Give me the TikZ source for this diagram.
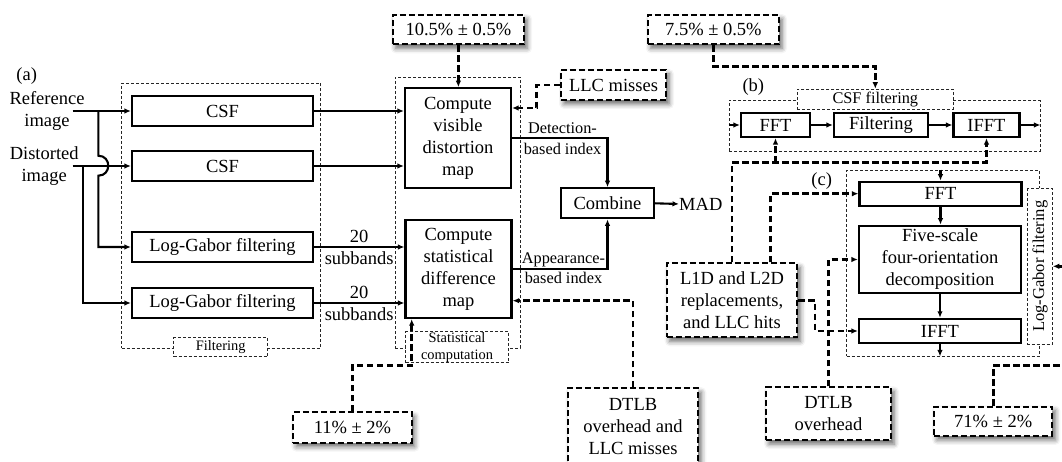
\documentclass[tikz,border=0pt]{standalone}
\usepackage{fontspec}
\setmainfont{Liberation Serif}
\usetikzlibrary{arrows.meta,shadows.blur,calc}

\newcommand\fsmain{\fontsize{18.5}{22}\selectfont}
\newcommand\fsidx{\fontsize{16.3}{20.5}\selectfont}
\newcommand\fsgrp{\fontsize{14.4}{16.7}\selectfont}

\begin{document}
\begin{tikzpicture}[x=1pt,y=-1pt,
  every node/.style={font=\fsmain, inner sep=0pt, align=center},
  sbox/.style={draw, line width=2.2pt, fill=white},
  abox/.style={draw, line width=1.9pt, dash pattern=on 6pt off 3pt, fill=white,
    blur shadow={shadow xshift=3pt, shadow yshift=-4pt, shadow blur radius=5pt, shadow opacity=60}},
  gbox/.style={draw=black!85, line width=0.9pt, dash pattern=on 3pt off 2pt},
  glabel/.style={gbox, fill=white},
  conn/.style={line width=2.1pt, -{Latex[length=6.5pt,width=5.5pt]}},
  aconn/.style={line width=2.7pt, dash pattern=on 6.5pt off 3.5pt, -{Latex[length=6.5pt,width=5.5pt]}}]

\useasboundingbox (0,0) rectangle (1062,462);
\clip (0,0) rectangle (1062,462);

% ---------- (a) MAD pipeline ----------
\node (lbla) at (26.7,76) {(a)};
\node (reftxt) at (47,110.5) {Reference\\image};
\node (disttxt) at (44.2,165.8) {Distorted\\image};

% dotted grouping frames
\node[gbox, minimum width=198.5pt, minimum height=265pt] (fgrp) at (220.75,215.5) {};
\node[gbox, minimum width=125pt, minimum height=271pt] (sgrp) at (457.5,212.5) {};

\node[sbox, minimum width=181pt, minimum height=30pt] (csf1) at (222.5,111) {CSF};
\node[sbox, minimum width=181pt, minimum height=30pt] (csf2) at (222.5,166) {CSF};
\node[sbox, minimum width=181pt, minimum height=30pt] (lg1) at (222.5,247) {Log-Gabor filtering};
\node[sbox, minimum width=181pt, minimum height=30pt] (lg2) at (222.5,303) {Log-Gabor filtering};

\node[sbox, minimum width=106pt, minimum height=100pt] (cvd) at (458,138.3) {Compute\\visible\\distortion\\map};
\node[sbox, minimum width=106pt, minimum height=98pt] (csd) at (458.5,269) {Compute\\statistical\\difference\\map};
\node[sbox, minimum width=93pt, minimum height=30pt] (comb) at (607.5,203.3) {Combine};
\node[anchor=west] (mad) at (679,204) {MAD};

\node[glabel, font=\fsgrp, minimum width=94pt, minimum height=19pt] (flabel) at (220.7,347) {Filtering};
\node[glabel, font=\fsgrp, minimum width=103pt, minimum height=31pt] (slabel) at (457,347.2) {Statistical\\computation};

\node[font=\fsidx] (detlab) at (562.5,138.5) {Detection-\\based index};
\node[font=\fsidx] (applab) at (563.5,268) {Appearance-\\based index};
\node[font=\fontsize{18.5}{21.6}\selectfont] (sb1) at (359.2,247.5) {20\\subbands};
\node[font=\fontsize{18.5}{21.6}\selectfont] (sb2) at (359.2,303.3) {20\\subbands};

\coordinate (refin) at (72.7,111);
\coordinate (refbr) at (98.3,111);
\coordinate (distin) at (72.5,166);
\coordinate (distbr) at (82.7,166);

\draw[conn] (refin) -- (csf1.west);
\draw[conn] (distin) -- (csf2.west);
% reference branch hops over the distorted-image line
\draw[conn] (refbr) -- (98.3,155.7) .. controls (111.6,155.7) and (111.6,175.7) .. (98.3,175.7) |- (lg1.west);
\draw[conn] (distbr) |- (lg2.west);

\draw[conn] (csf1.east) -- (csf1.east -| cvd.west);
\draw[conn] (csf2.east) -- (csf2.east -| cvd.west);
\draw[conn] (lg1.east) -- (lg1.east -| csd.west);
\draw[conn] (lg2.east) -- (lg2.east -| csd.west);
\draw[conn] (cvd.east) -| (comb.north);
\draw[conn] (csd.east) -| (comb.south);
\draw[conn] (comb.east) -- (mad.west);

% ---------- (b) CSF filtering ----------
\node (lblb) at (753.3,87.3) {(b)};
\node[gbox, minimum width=310.7pt, minimum height=50.7pt] (bgrp) at (884.65,125.65) {};
\node[glabel, font=\fontsize{16.3}{19}\selectfont, minimum width=156pt, minimum height=20pt] (blabel) at (875.3,99.2) {CSF filtering};
\node[sbox, minimum width=69pt, minimum height=24pt] (fftb) at (775.5,125) {FFT};
\node[sbox, minimum width=94pt, minimum height=24pt] (filtb) at (881,125) {Filtering};
\node[sbox, minimum width=66pt, minimum height=24pt] (ifftb) at (986.5,125) {IFFT};
\draw[conn] (bgrp.west |- fftb.west) -- (fftb.west);
\draw[conn] (fftb.east) -- (filtb.west);
\draw[conn] (filtb.east) -- (ifftb.west);
\draw[conn] (ifftb.east) -- (ifftb.east -| bgrp.east);

% ---------- (c) Log-Gabor filtering ----------
\node (lblc) at (821.7,180.7) {(c)};
\node[gbox, minimum width=192.6pt, minimum height=186pt] (cgrp) at (943,263) {};
\node[glabel, rotate=90, font=\fontsize{16.6}{19}\selectfont, minimum width=156pt, minimum height=24.6pt] (clabel) at (1040,266.3) {Log-Gabor filtering};
\node[sbox, minimum width=162pt, minimum height=24pt] (fftc) at (940.5,193.7) {FFT};
\node[sbox, minimum width=162pt, minimum height=67.6pt] (five) at (940,259.5) {Five-scale\\four-orientation\\decomposition};
\node[sbox, minimum width=162pt, minimum height=24.3pt] (ifftc) at (940,331) {IFFT};
\draw[conn] (cgrp.north -| fftc.north) -- (fftc.north);
\draw[conn] (fftc.south) -- (fftc.south |- five.north);
\draw[conn] (five.south) -- (five.south |- ifftc.north);
\draw[conn] (ifftc.south) -- (ifftc.south |- cgrp.south);

% ---------- measured shares and hardware events ----------
\node[abox, minimum width=131.3pt, minimum height=29.3pt] (p105) at (458.4,29.7) {10.5\% ± 0.5\%};
\node[abox, minimum width=131.3pt, minimum height=29.3pt] (p75) at (713.4,29.7) {7.5\% ± 0.5\%};
\node[abox, minimum width=105pt, minimum height=30pt] (llc) at (613.5,85) {LLC misses};
\node[abox, minimum width=118.4pt, minimum height=30.4pt] (p11) at (352.5,427.5) {11\% ± 2\%};
\node[abox, minimum width=118.3pt, minimum height=29.3pt] (p71) at (993.2,421.3) {71\% ± 2\%};
\node[abox, minimum width=130.6pt, minimum height=74pt] (l1d) at (732,300.3) {L1D and L2D\\replacements,\\and LLC hits};
\node[abox, minimum width=125pt, minimum height=52.7pt] (dtlbo) at (828.5,413.7) {DTLB\\overhead};
\node[abox, minimum width=130.6pt, minimum height=77pt] (dtlbl) at (633,426.7) {DTLB\\overhead and\\LLC misses};

\coordinate (kllc) at (536.7,108);
\coordinate (k11) at (411.7,365.7);
\coordinate (k75) at (875.3,66.7);

\draw[aconn] (p105.south) -- (p105.south |- cvd.north);
\draw[aconn] (llc.west) -| (kllc) -- (kllc -| cvd.east);
\draw[aconn] (p11.north) |- (k11) -- (k11 |- csd.south);
\draw[aconn] (dtlbl.north) |- ($(csd.east)+(0,31.7)$);
\draw[aconn] (p75.south) |- (k75) -- (blabel.north);
\draw[aconn] (l1d.north) |- ($(ifftb.south)+(0,24.7)$) -- (ifftb.south);
\draw[aconn] ($(fftb.south)+(0,24.7)$) -- (fftb.south);
\draw[aconn] ($(l1d.north)+(38.7,0)$) |- (fftc.west);
\draw[aconn] (l1d.east) -| ($(l1d.east)+(16.7,15)$) |- (ifftc.west);
\draw[aconn] (dtlbo.north) |- (five.west);
\draw[aconn] (p71.north) |- ($(p71.north)+(80,-40)$) |- (clabel.south);
\end{tikzpicture}
\end{document}
